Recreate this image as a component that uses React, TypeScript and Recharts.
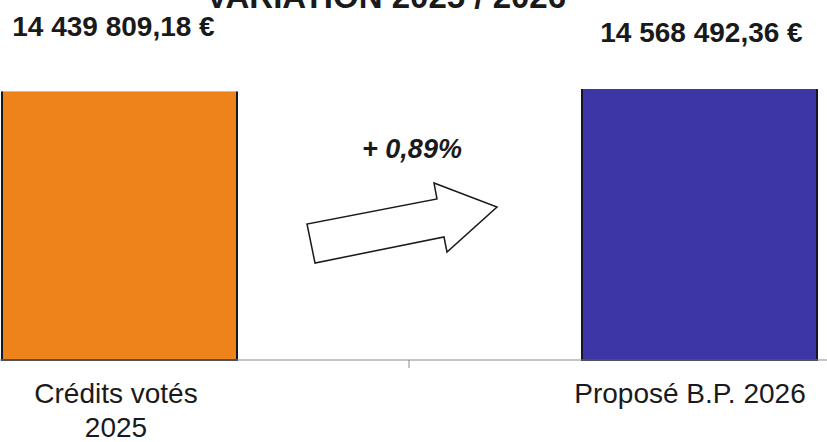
import React from 'react'
import { BarChart, Bar, XAxis, YAxis, LabelList, Cell, Customized } from 'recharts'

// Chart data
const categories = ['Crédits votés\n2025', 'Proposé B.P. 2026']
const amounts = [14439809.18, 14568492.36]
const barColors = ['#EF831B', '#3D36A6']
const title = 'VARIATION 2025 / 2026'

const data = categories.map((name, i) => ({ name, amount: amounts[i] }))

// Layout: the original picture is a crop of a wider slide, so the chart is
// wider than the view and shifted left
const VIEW_W = 827
const VIEW_H = 442
const CHART_W = 1160
const CHART_LEFT = -171
const BAND = CHART_W / categories.length
const FONT = "'Liberation Sans', Arial, sans-serif"

const formatEuro = (v: number) => {
  const [int, dec] = v.toFixed(2).split('.')
  return int.replace(/\B(?=(\d{3})+(?!\d))/g, ' ') + ',' + dec + ' €'
}

const pct = (amounts[1] / amounts[0] - 1) * 100
const variation = `${pct >= 0 ? '+' : '-'} ${Math.abs(pct).toFixed(2).replace('.', ',')}%`

// Bar with dark outline on left, bottom and right only
const BarShape = (props: any) => {
  const { x, y, width, height, fill } = props
  return (
    <g>
      <rect x={x} y={y} width={width} height={height} fill={fill} />
      <path
        d={`M${x},${y} V${y + height} H${x + width} V${y}`}
        fill="none"
        stroke="#16162a"
        strokeWidth={2}
      />
    </g>
  )
}

const labelShift = [
  { dx: -6, dy: -55 },
  { dx: 2, dy: -47 }
]

const ValueLabel = (props: any) => {
  const { x, y, width, value, index } = props
  const s = labelShift[index] || { dx: 0, dy: -50 }
  return (
    <text
      x={x + width / 2 + s.dx}
      y={y + s.dy}
      textAnchor="middle"
      fontFamily={FONT}
      fontWeight="bold"
      fontSize={28}
      fill="#1a1a1a"
    >
      {formatEuro(value)}
    </text>
  )
}

const tickShift = [-3, -9]

const CategoryTick = (props: any) => {
  const { x, y, payload, index } = props
  const lines = String(payload.value).split('\n')
  return (
    <g>
      {index === 0 && (
        <line x1={x + BAND / 2} y1={y} x2={x + BAND / 2} y2={y + 8} stroke="#8a8a8a" />
      )}
      {lines.map((line, i) => (
        <text
          key={i}
          x={x + (tickShift[index] || 0)}
          y={y + 43 + i * 34}
          textAnchor="middle"
          fontFamily={FONT}
          fontSize={28}
          fill="#1a1a1a"
        >
          {line}
        </text>
      ))}
    </g>
  )
}

// Title (cut off at the top, as in the original) and the variation arrow
const arrowPts = [
  [315, 263], [307, 224], [437, 199], [434, 183],
  [497, 207], [447, 252], [444, 237]
]

const Overlay = () => {
  const pts = arrowPts.map(([px, py]) => `${px - CHART_LEFT},${py}`).join(' ')
  return (
    <g>
      <text
        x={386 - CHART_LEFT}
        y={8}
        textAnchor="middle"
        fontFamily={FONT}
        fontWeight="bold"
        fontSize={33}
        fill="#1a1a1a"
      >
        {title}
      </text>
      <text
        x={412 - CHART_LEFT}
        y={158}
        textAnchor="middle"
        fontFamily={FONT}
        fontWeight="bold"
        fontStyle="italic"
        fontSize={27}
        fill="#1a1a1a"
      >
        {variation}
      </text>
      <polygon points={pts} fill="#ffffff" stroke="#1a1a1a" strokeWidth={1.5} />
    </g>
  )
}

export default function App() {
  return (
    <div
      style={{
        position: 'absolute',
        left: 0,
        top: 0,
        width: VIEW_W,
        height: VIEW_H,
        overflow: 'hidden',
        background: '#ffffff'
      }}
    >
      <div style={{ position: 'absolute', left: CHART_LEFT, top: 0 }}>
        <BarChart
          width={CHART_W}
          height={VIEW_H}
          data={data}
          margin={{ top: 89, right: 0, bottom: 2, left: 0 }}
        >
          <XAxis
            dataKey="name"
            interval={0}
            height={80}
            tickSize={0}
            tickMargin={0}
            tickLine={false}
            axisLine={{ stroke: '#8a8a8a' }}
            tick={<CategoryTick />}
          />
          <YAxis hide domain={[0, 'dataMax']} />
          <Bar dataKey="amount" barSize={235} shape={<BarShape />} isAnimationActive={false}>
            {data.map((_, i) => (
              <Cell key={i} fill={barColors[i]} />
            ))}
            <LabelList dataKey="amount" content={<ValueLabel />} />
          </Bar>
          <Customized component={<Overlay />} />
        </BarChart>
      </div>
    </div>
  )
}
